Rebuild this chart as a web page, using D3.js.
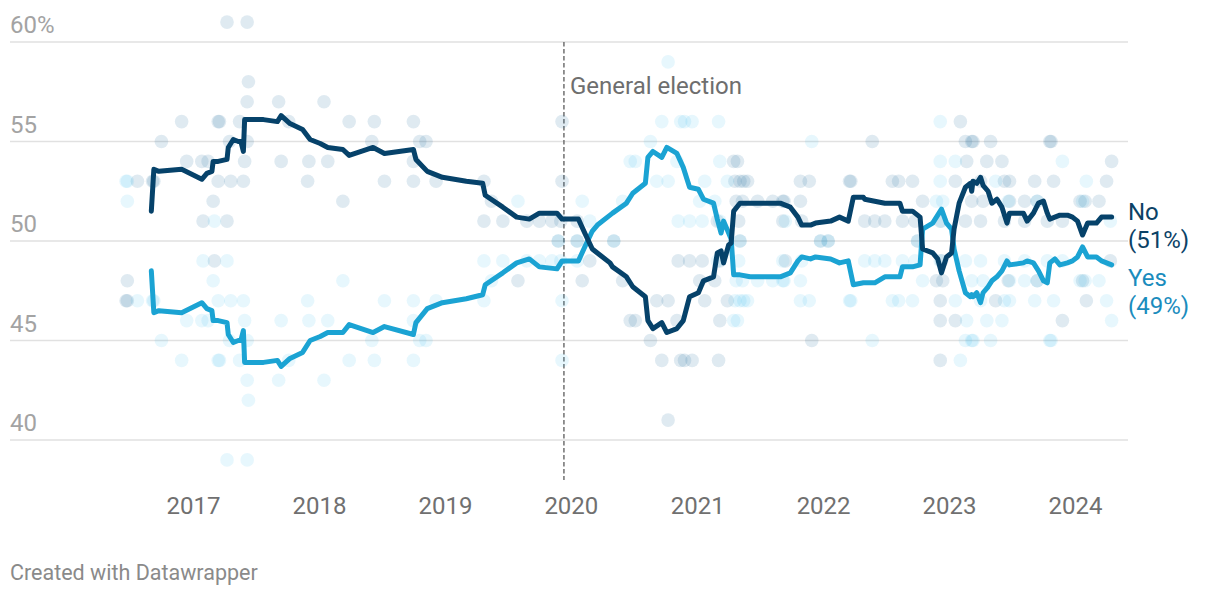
<!DOCTYPE html>
<html><head><meta charset="utf-8">
<script src="https://cdn.jsdelivr.net/npm/d3@7"></script>
<style>
body{margin:0;background:#fff;}
svg text{font-family:Roboto,"Noto Sans",sans-serif;}
</style></head><body>
<svg id="chart" width="1220" height="596"></svg>
<script>
// ---- data ----
const yTicks = [40, 45, 50, 55, 60];
const yTickLabels = ["40", "45", "50", "55", "60%"];
const xTickYears = [2017, 2018, 2019, 2020, 2021, 2022, 2023, 2024];
const seriesNames = ["No", "Yes"];
const finalLabels = ["(51%)", "(49%)"];
const eventDate = 2019.945;
const eventLabel = "General election";
const footerText = "Created with Datawrapper";

// trend lines (decimal year)
const lineDates = [2016.67,2016.69,2016.73,2016.91,2017.07,2017.11,2017.15,2017.16,2017.20,2017.27,2017.28,2017.32,2017.36,2017.38,2017.40,2017.41,2017.56,2017.67,2017.70,2017.77,2017.87,2017.93,2018.01,2018.07,2018.19,2018.24,2018.43,2018.52,2018.75,2018.77,2018.86,2018.98,2019.17,2019.30,2019.32,2019.46,2019.57,2019.67,2019.75,2019.89,2019.93,2020.06,2020.11,2020.17,2020.21,2020.31,2020.33,2020.44,2020.49,2020.59,2020.61,2020.65,2020.72,2020.76,2020.84,2020.89,2020.94,2021.01,2021.05,2021.13,2021.16,2021.19,2021.21,2021.25,2021.27,2021.29,2021.34,2021.42,2021.66,2021.74,2021.80,2021.83,2021.90,2021.94,2022.06,2022.13,2022.20,2022.24,2022.32,2022.33,2022.41,2022.49,2022.61,2022.63,2022.71,2022.77,2022.79,2022.87,2022.91,2022.94,2022.98,2023.02,2023.04,2023.08,2023.13,2023.17,2023.18,2023.19,2023.22,2023.25,2023.27,2023.31,2023.34,2023.38,2023.42,2023.46,2023.48,2023.59,2023.62,2023.67,2023.71,2023.75,2023.78,2023.80,2023.84,2023.88,2023.94,2023.98,2024.02,2024.06,2024.10,2024.17,2024.21,2024.29];
const lineNo = [51.5,53.6,53.5,53.6,53.1,53.4,53.5,54.0,54.0,54.1,54.7,55.1,55.0,55.0,54.5,56.1,56.1,56.0,56.3,55.9,55.6,55.1,54.9,54.7,54.6,54.3,54.7,54.4,54.6,54.1,53.5,53.2,53.0,52.9,52.3,51.7,51.2,51.1,51.4,51.4,51.1,51.1,50.4,49.6,49.4,48.9,48.7,48.2,47.7,47.2,46.0,45.6,45.9,45.4,45.6,46.0,47.2,47.4,48.0,48.2,49.4,49.5,48.9,49.8,49.9,51.5,51.9,51.9,51.9,51.7,51.2,50.8,50.8,50.9,51.0,51.2,51.0,52.2,52.2,52.1,52.0,51.9,51.9,51.5,51.5,51.2,49.6,49.4,49.1,48.4,49.2,49.4,50.6,51.9,52.7,52.9,52.5,53.0,52.9,53.2,52.8,52.5,51.9,52.1,51.7,50.9,51.4,51.4,51.0,51.4,51.9,52.0,51.4,51.1,51.2,51.3,51.3,51.2,51.0,50.3,50.9,50.9,51.2,51.2];
const lineYes = [48.5,46.4,46.5,46.4,46.9,46.6,46.5,46.0,46.0,45.9,45.3,44.9,45.0,45.0,45.5,43.9,43.9,44.0,43.7,44.1,44.4,45.0,45.2,45.4,45.4,45.8,45.4,45.7,45.3,45.9,46.6,46.9,47.1,47.3,47.8,48.4,48.9,49.1,48.7,48.6,49.0,49.0,49.7,50.5,50.8,51.3,51.4,51.9,52.4,52.9,54.2,54.5,54.2,54.7,54.4,53.7,52.7,52.6,52.1,51.9,51.1,50.4,51.0,50.4,50.1,48.3,48.3,48.2,48.2,48.4,49.0,49.2,49.1,49.2,49.1,48.9,49.0,47.8,47.9,47.9,47.9,48.2,48.2,48.7,48.7,48.8,50.6,50.9,51.3,51.6,50.9,50.6,49.6,48.5,47.4,47.2,47.3,47.2,47.4,46.9,47.4,47.7,48.0,48.2,48.5,49.0,48.8,48.9,49.0,48.9,48.5,48.0,47.9,48.9,49.1,48.8,48.9,49.0,49.2,49.7,49.2,49.2,49.0,48.8];

// individual polls (decimal year)
const pollDates = [2016.47,2016.48,2016.48,2016.56,2016.68,2016.69,2016.75,2016.91,2016.95,2017.07,2017.08,2017.12,2017.16,2017.17,2017.20,2017.21,2017.20,2017.27,2017.27,2017.29,2017.30,2017.37,2017.40,2017.41,2017.43,2017.43,2017.43,2017.44,2017.68,2017.70,2017.76,2017.91,2017.92,2018.04,2018.07,2018.19,2018.24,2018.42,2018.44,2018.52,2018.75,2018.75,2018.75,2018.80,2018.85,2018.93,2019.31,2019.31,2019.37,2019.46,2019.58,2019.65,2019.75,2019.85,2019.90,2019.92,2019.93,2019.93,2020.05,2020.05,2020.09,2020.15,2020.34,2020.41,2020.47,2020.51,2020.63,2020.68,2020.72,2020.77,2020.77,2020.84,2020.85,2020.87,2020.90,2020.94,2020.96,2021.02,2021.04,2021.06,2021.14,2021.16,2021.17,2021.18,2021.18,2021.24,2021.29,2021.30,2021.31,2021.32,2021.33,2021.34,2021.34,2021.36,2021.37,2021.40,2021.48,2021.60,2021.68,2021.69,2021.68,2021.70,2021.82,2021.82,2021.83,2021.89,2021.91,2021.98,2022.04,2022.21,2022.22,2022.33,2022.39,2022.41,2022.49,2022.55,2022.60,2022.63,2022.71,2022.73,2022.75,2022.79,2022.90,2022.93,2022.93,2022.93,2022.95,2022.93,2022.94,2023.05,2023.05,2023.09,2023.13,2023.13,2023.14,2023.18,2023.19,2023.18,2023.25,2023.25,2023.27,2023.30,2023.33,2023.37,2023.42,2023.44,2023.44,2023.47,2023.48,2023.48,2023.60,2023.60,2023.68,2023.70,2023.70,2023.78,2023.80,2023.81,2023.83,2023.90,2023.90,2024.04,2024.06,2024.08,2024.09,2024.19,2024.25,2024.28,2024.29];
const pollNo = [47,47,48,53,53,53,55,56,54,54,51,54,52,49,56,56,53,61,51,55,53,56,53,54,61,57,55,58,57,54,56,53,54,57,54,52,56,55,56,53,56,54,53,55,55,53,53,51,52,51,48,51,51,51,50,51,56,53,51,50,48,49,50,48,46,46,45,47,44,47,41,46,49,44,44,49,44,48,49,47,48,51,44,46,49,47,54,53,52,54,51,50,53,52,53,53,52,52,52,52,51,49,53,52,51,53,45,50,50,53,53,51,55,51,51,53,53,51,53,51,50,52,48,44,46,47,48,51,49,46,53,56,55,51,54,55,55,52,53,51,52,54,55,47,54,53,51,48,53,52,52,51,53,52,48,51,55,55,53,46,51,52,48,52,47,52,53,49,54];
const pollYes = [53,53,52,47,47,47,45,44,46,46,49,46,48,51,44,44,47,39,49,45,47,44,47,46,39,43,45,42,43,46,44,47,46,43,46,48,44,45,44,47,44,46,47,45,45,47,47,49,48,49,52,49,49,49,50,49,44,47,49,50,52,51,50,52,54,54,55,53,56,53,59,54,51,56,56,51,56,52,51,53,52,49,56,54,51,53,46,47,48,46,49,50,47,48,47,47,48,48,48,48,49,51,47,48,49,47,55,50,50,47,47,49,45,49,49,47,47,49,47,49,50,48,52,56,54,53,52,49,51,54,47,44,45,49,46,45,45,48,47,49,48,46,45,53,46,47,49,52,47,48,48,49,47,48,52,49,45,45,47,54,49,48,52,48,53,48,47,51,46];

// ---- drawing ----
const colNo = "#06426a", colYes = "#1ba3d3";
const dotNo = "#1a6c99", dotYes = "#14b0ea";
const toDate = d => { const y = Math.floor(d); const s = new Date(y,0,1), e = new Date(y+1,0,1); return new Date(+s + (d - y) * (e - s)); };

const svg = d3.select("#chart");
const x = d3.scaleTime().domain([new Date(2017,0,1), new Date(2024,0,1)]).range([193, 1075]);
const y = d3.scaleLinear().domain([40, 60]).range([440, 42]);
const gridX0 = 10, gridX1 = 1128;

// grid
const grid = svg.append("g");
grid.selectAll("line").data(yTicks).join("line")
  .attr("x1", gridX0).attr("x2", gridX1)
  .attr("y1", d => y(d)).attr("y2", d => y(d))
  .attr("stroke", "#e1e1e1").attr("stroke-width", 1.3);
grid.selectAll("text").data(yTicks).join("text")
  .attr("x", gridX0).attr("y", d => y(d) - 9)
  .attr("fill", "#a3a3a3").attr("font-size", 24)
  .text((d, i) => yTickLabels[i]);

// x axis
const xAxis = d3.axisBottom(x).tickValues(xTickYears.map(v => new Date(v,0,1)))
  .tickFormat(d3.timeFormat("%Y")).tickSize(0).tickPadding(17);
const gx = svg.append("g").attr("transform", "translate(0,480)").call(xAxis);
gx.select(".domain").remove();
gx.selectAll("text").attr("font-size", 24).attr("fill", "#707070").attr("font-family", "Roboto");

// event line
const ex = x(toDate(eventDate));
svg.append("line").attr("x1", ex).attr("x2", ex).attr("y1", y(60)).attr("y2", 480)
  .attr("stroke", "#707070").attr("stroke-width", 1.5).attr("stroke-dasharray", "4.5,2.5");
svg.append("text").attr("x", ex + 6).attr("y", 94).attr("fill", "#6e6e6e")
  .attr("font-size", 24).text(eventLabel);

// dots
const polls = pollDates.map((d, i) => ({ date: toDate(d), no: pollNo[i], yes: pollYes[i] }));
const dots = svg.append("g");
dots.selectAll(".dn").data(polls).join("circle").attr("class", "dn")
  .attr("cx", d => x(d.date)).attr("cy", d => y(d.no)).attr("r", 6.8)
  .attr("fill", dotNo).attr("fill-opacity", 0.14);
dots.selectAll(".dy").data(polls).join("circle").attr("class", "dy")
  .attr("cx", d => x(d.date)).attr("cy", d => y(d.yes)).attr("r", 6.8)
  .attr("fill", dotYes).attr("fill-opacity", 0.1);

// lines
const pts = lineDates.map((d, i) => ({ date: toDate(d), no: lineNo[i], yes: lineYes[i] }));
const lineGen = key => d3.line().x(d => x(d.date)).y(d => y(d[key]));
svg.append("path").datum(pts).attr("d", lineGen("yes")).attr("fill", "none")
  .attr("stroke", colYes).attr("stroke-width", 5).attr("stroke-linejoin", "round").attr("stroke-linecap", "round");
svg.append("path").datum(pts).attr("d", lineGen("no")).attr("fill", "none")
  .attr("stroke", colNo).attr("stroke-width", 5).attr("stroke-linejoin", "round").attr("stroke-linecap", "round");

// end labels
const lab = svg.append("g").attr("font-size", 24);
lab.append("text").attr("x", 1128).attr("y", 220).attr("fill", "#0b4266").text(seriesNames[0]);
lab.append("text").attr("x", 1128).attr("y", 248).attr("fill", "#0b4266").text(finalLabels[0]);
lab.append("text").attr("x", 1128).attr("y", 286).attr("fill", "#1a8cbd").text(seriesNames[1]);
lab.append("text").attr("x", 1128).attr("y", 314).attr("fill", "#1a8cbd").text(finalLabels[1]);

// footer
svg.append("text").attr("x", 10).attr("y", 580).attr("fill", "#8a8a8a").attr("font-size", 21.5).text(footerText);
</script>
</body></html>
